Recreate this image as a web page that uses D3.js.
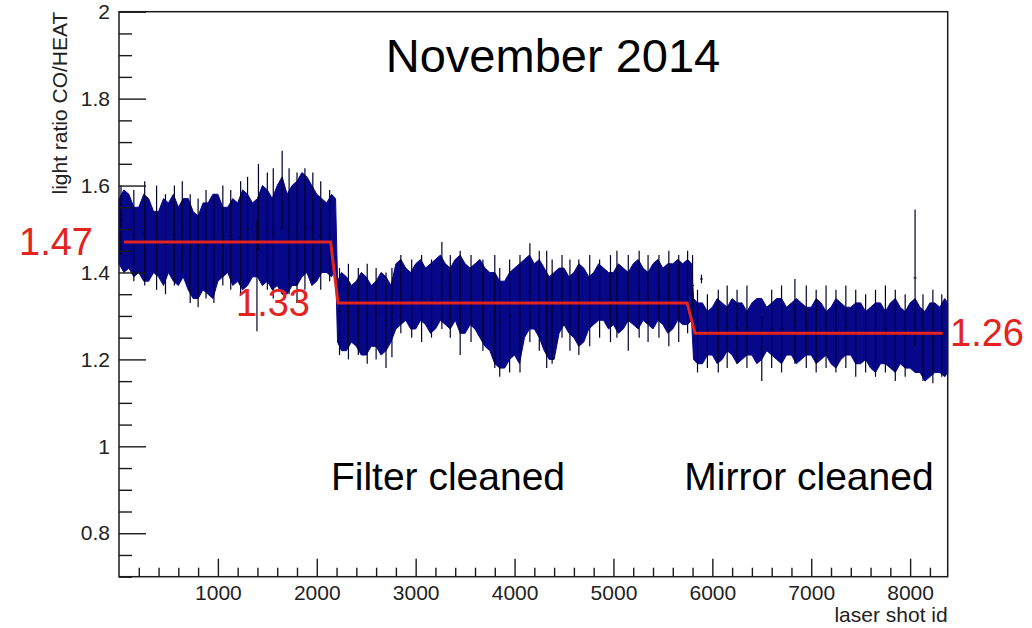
<!DOCTYPE html>
<html><head><meta charset="utf-8">
<script src="https://cdn.jsdelivr.net/npm/d3@7"></script>
<style>
body{margin:0;background:#fff}
svg{display:block}
text{font-family:"Liberation Sans",Arial,Helvetica,sans-serif}
</style>
</head><body>
<svg id="chart" width="1032" height="628"></svg>
<script>
// ---------- data ----------
// envelope of the dense band of points (upper / lower edge), per group of laser shots
const shotIds = [
  0,50,100,150,200,250,300,350,400,450,500,550,600,650,700,750,800,850,900,950,1000,1050,1100,1150,1200,1250,1300,1350,1400,1450,1500,1550,1600,1650,1700,1750,1800,1850,1900,1950,2000,2050,2100,2150,2190,
  2210,2250,2300,2350,2400,2450,2500,2550,2600,2650,2700,2750,2800,2850,2900,2950,3000,3050,3100,3150,3200,3250,3300,3350,3400,3450,3500,3550,3600,3650,3700,3750,
  3800,3850,3900,3950,4000,4050,4100,4150,4200,4250,4300,4350,4400,4450,4500,4550,4600,4650,4700,4750,
  4800,4850,4900,4950,5000,5050,5100,5150,5200,5250,5300,5350,5400,5450,5500,5550,5600,5650,5700,5750,5790,
  5810,5850,5900,5950,6000,6050,6100,6150,6200,6250,6300,6350,6400,6450,6500,6550,6600,6650,6700,6750,6800,
  6850,6900,6950,7000,7050,7100,7150,7200,7250,7300,7350,7400,7450,7500,7550,7600,7650,7700,7750,7800,
  7850,7900,7950,8000,8050,8100,8150,8200,8250,8300,8350,8380];
const bandTop = [
  1.57,1.59,1.58,1.55,1.55,1.58,1.57,1.54,1.54,1.57,1.56,1.58,1.55,1.57,1.57,1.54,1.53,1.56,1.56,1.58,1.58,1.55,1.55,1.57,1.56,1.59,1.58,1.56,1.57,1.60,1.59,1.57,1.60,1.62,1.58,1.60,1.61,1.63,1.62,1.60,1.58,1.57,1.56,1.58,1.57,
  1.38,1.40,1.39,1.37,1.38,1.40,1.39,1.37,1.38,1.40,1.39,1.37,1.42,1.43,1.41,1.40,1.42,1.43,1.41,1.42,1.43,1.44,1.42,1.41,1.43,1.44,1.42,1.41,1.42,1.43,1.41,1.40,
  1.40,1.38,1.38,1.40,1.41,1.42,1.43,1.44,1.42,1.43,1.41,1.39,1.40,1.41,1.41,1.39,1.40,1.42,1.41,1.39,
  1.40,1.42,1.41,1.40,1.40,1.42,1.41,1.40,1.42,1.43,1.41,1.40,1.42,1.43,1.41,1.42,1.42,1.43,1.42,1.43,1.42,
  1.34,1.33,1.33,1.31,1.32,1.34,1.33,1.32,1.34,1.33,1.33,1.31,1.33,1.34,1.34,1.32,1.33,1.34,1.34,1.32,1.33,
  1.34,1.33,1.32,1.32,1.34,1.33,1.31,1.32,1.34,1.33,1.32,1.32,1.33,1.33,1.31,1.32,1.33,1.33,1.31,1.33,
  1.34,1.32,1.31,1.33,1.34,1.32,1.31,1.33,1.33,1.32,1.34,1.33];
const bandBottom = [
  1.42,1.40,1.41,1.39,1.40,1.38,1.38,1.40,1.39,1.37,1.40,1.38,1.37,1.39,1.36,1.34,1.34,1.36,1.35,1.34,1.38,1.39,1.40,1.37,1.38,1.36,1.37,1.39,1.39,1.37,1.38,1.36,1.37,1.35,1.35,1.37,1.37,1.39,1.40,1.37,1.38,1.40,1.40,1.39,1.41,
  1.24,1.22,1.22,1.24,1.23,1.21,1.21,1.23,1.23,1.21,1.22,1.24,1.27,1.28,1.29,1.27,1.27,1.29,1.28,1.26,1.27,1.29,1.28,1.27,1.29,1.26,1.26,1.28,1.27,1.25,1.23,1.22,
  1.19,1.18,1.18,1.20,1.21,1.19,1.25,1.27,1.27,1.25,1.22,1.20,1.20,1.26,1.28,1.26,1.25,1.23,1.24,1.27,
  1.28,1.29,1.29,1.27,1.28,1.26,1.27,1.29,1.28,1.27,1.29,1.28,1.27,1.29,1.28,1.26,1.27,1.29,1.28,1.28,1.29,
  1.20,1.19,1.19,1.21,1.21,1.19,1.20,1.22,1.21,1.19,1.20,1.21,1.21,1.19,1.20,1.22,1.21,1.20,1.19,1.21,1.21,
  1.19,1.20,1.21,1.21,1.19,1.20,1.21,1.19,1.18,1.20,1.21,1.21,1.19,1.19,1.20,1.18,1.17,1.19,1.19,1.18,
  1.17,1.19,1.18,1.18,1.17,1.17,1.15,1.16,1.17,1.17,1.16,1.17];

// individual points with long error bars sticking out of the band
const spikeShots = [20,150,260,380,470,560,640,720,800,880,960,1050,1130,1230,1300,1395,1410,1500,1560,1650,1720,1800,1880,1960,2040,2130,
  2230,2320,2420,2510,2600,2700,2760,2850,2960,3060,3160,3265,3350,3450,3560,3680,3800,3850,3950,4055,4155,4250,4325,4380,4480,4560,4650,4760,4860,4970,5035,5150,5260,5350,5460,5560,5660,5750,5800,
  5850,5890,5950,6060,6150,6250,6350,6500,6600,6700,6835,6950,7050,7150,7250,7350,7450,7550,7650,7750,7850,7950,8050,8130,8230,8320];
const spikeHigh = [1.60,1.59,1.61,1.60,1.58,1.60,1.61,1.58,1.57,1.59,1.58,1.60,1.59,1.61,1.62,1.52,1.65,1.63,1.64,1.68,1.64,1.63,1.64,1.63,1.61,1.59,
  1.41,1.42,1.41,1.42,1.41,1.40,1.41,1.44,1.43,1.44,1.43,1.47,1.44,1.45,1.44,1.43,1.44,1.41,1.43,1.44,1.467,1.45,1.45,1.43,1.44,1.43,1.43,1.44,1.43,1.44,1.45,1.44,1.45,1.44,1.44,1.45,1.44,1.45,1.44,
  1.36,1.395,1.35,1.36,1.37,1.36,1.37,1.30,1.36,1.37,1.385,1.37,1.36,1.37,1.36,1.37,1.36,1.35,1.36,1.37,1.36,1.35,1.545,1.35,1.36,1.35];
const spikeLow = [1.44,1.38,1.37,1.36,1.35,1.37,1.40,1.33,1.32,1.34,1.33,1.37,1.36,1.35,1.38,1.265,1.45,1.36,1.34,1.50,1.35,1.33,1.36,1.38,1.36,1.38,
  1.21,1.20,1.21,1.19,1.20,1.18,1.205,1.26,1.25,1.24,1.25,1.27,1.25,1.21,1.24,1.22,1.18,1.16,1.17,1.17,1.24,1.22,1.18,1.19,1.25,1.22,1.21,1.23,1.25,1.24,1.25,1.22,1.25,1.24,1.25,1.23,1.24,1.26,1.30,
  1.17,1.375,1.18,1.17,1.18,1.19,1.18,1.15,1.18,1.17,1.19,1.18,1.17,1.18,1.17,1.18,1.16,1.17,1.16,1.17,1.15,1.16,1.23,1.15,1.145,1.16];

// fitted step function
const fitShots  = [50, 2140, 2215, 5745, 5825, 8330];
const fitValues = [1.47, 1.47, 1.33, 1.33, 1.26, 1.26];
const fitLabels = ["1.47", "1.33", "1.26"];

const xMajorTicks = [1000,2000,3000,4000,5000,6000,7000,8000];
const xMinorTicks = [200,400,600,800,1200,1400,1600,1800,2200,2400,2600,2800,3200,3400,3600,3800,4200,4400,4600,4800,5200,5400,5600,5800,6200,6400,6600,6800,7200,7400,7600,7800,8200];
const yMajorTicks = [0.8,1.0,1.2,1.4,1.6,1.8,2.0];
const yMinorTicks = [0.7,0.75,0.85,0.9,0.95,1.05,1.1,1.15,1.25,1.3,1.35,1.45,1.5,1.55,1.65,1.7,1.75,1.85,1.9,1.95];

const titleText = "November 2014";
const xTitle = "laser shot id";
const yTitle = "light ratio CO/HEAT";
const eventLabels = ["Filter cleaned", "Mirror cleaned"];

// ---------- drawing ----------
const svg = d3.select("#chart");
const L = 119, R = 947.7, T = 11.7, B = 576.7;
const x = d3.scaleLinear().domain([0, 8380]).range([L, R]);
const y = d3.scaleLinear().domain([0.7, 2.0]).range([B, T]);

const band = shotIds.map((s, i) => ({s, top: bandTop[i], bot: bandBottom[i]}));
const navy = "#07078a";

svg.append("path")
  .datum(band)
  .attr("fill", navy)
  .attr("stroke", navy)
  .attr("stroke-width", 1)
  .attr("stroke-linejoin", "miter")
  .attr("d", d3.area().x(d => x(d.s)).y0(d => y(d.bot)).y1(d => y(d.top)));

const spikes = spikeShots.map((s, i) => ({s, hi: spikeHigh[i], lo: spikeLow[i]}));
const sg = svg.append("g");
sg.selectAll("line.sp").data(spikes).join("line")
  .attr("class", "sp")
  .attr("x1", d => x(d.s)).attr("x2", d => x(d.s))
  .attr("y1", d => y(d.hi)).attr("y2", d => y(d.lo))
  .attr("stroke", "#00002e").attr("stroke-width", 1.2);
sg.selectAll("line.cap").data(spikes).join("line")
  .attr("class", "cap")
  .attr("x1", d => x(d.s) - 1.5).attr("x2", d => x(d.s) + 1.5)
  .attr("y1", d => y((d.hi + d.lo) / 2)).attr("y2", d => y((d.hi + d.lo) / 2))
  .attr("stroke", "#00002e").attr("stroke-width", 1);

// fit line
const fit = fitShots.map((s, i) => ({s, v: fitValues[i]}));
svg.append("path").datum(fit)
  .attr("fill", "none").attr("stroke", "#e2231e").attr("stroke-width", 3)
  .attr("d", d3.line().x(d => x(d.s)).y(d => y(d.v)));

// axes
const axisColor = "#1a1a1a";
const gx = svg.append("g").attr("transform", `translate(0,${B})`);
gx.call(d3.axisBottom(x).tickValues(xMajorTicks).tickSizeInner(-18).tickSizeOuter(0).tickFormat(d3.format("d")));
const gxm = svg.append("g").attr("transform", `translate(0,${B})`);
gxm.call(d3.axisBottom(x).tickValues(xMinorTicks).tickSizeInner(-9).tickSizeOuter(0).tickFormat(""));
const gy = svg.append("g").attr("transform", `translate(${L},0)`);
gy.call(d3.axisLeft(y).tickValues(yMajorTicks).tickSizeInner(-27).tickSizeOuter(0).tickPadding(9).tickFormat(d => d3.format("~g")(d)));
const gym = svg.append("g").attr("transform", `translate(${L},0)`);
gym.call(d3.axisLeft(y).tickValues(yMinorTicks).tickSizeInner(-13).tickSizeOuter(0).tickFormat(""));

[gx, gxm, gy, gym].forEach(g => {
  g.select(".domain").remove();
  g.selectAll(".tick line").attr("stroke", axisColor).attr("stroke-width", 1.4);
  g.selectAll(".tick text").attr("fill", "#222").attr("font-size", 21)
    .attr("font-family", "'Liberation Sans', Arial, sans-serif");
});
gx.selectAll(".tick text").attr("y", 23).attr("dy", "0");

// frame
svg.append("rect").attr("x", L).attr("y", T).attr("width", R - L).attr("height", B - T)
  .attr("fill", "none").attr("stroke", axisColor).attr("stroke-width", 1.5);

// axis titles
svg.append("text").attr("x", R).attr("y", 622).attr("text-anchor", "end")
  .attr("font-size", 21).attr("fill", "#222").text(xTitle);
svg.append("text").attr("transform", `translate(67,${T}) rotate(-90)`).attr("text-anchor", "end")
  .attr("font-size", 21).attr("fill", "#222").text(yTitle);

// title and annotations
svg.append("text").attr("x", 553).attr("y", 72).attr("text-anchor", "middle")
  .attr("font-size", 47).attr("fill", "#000").text(titleText);
svg.append("text").attr("x", 448).attr("y", 490).attr("text-anchor", "middle")
  .attr("font-size", 39).attr("fill", "#000").text(eventLabels[0]);
svg.append("text").attr("x", 809).attr("y", 490).attr("text-anchor", "middle")
  .attr("font-size", 39).attr("fill", "#000").text(eventLabels[1]);

// fit value labels
const red = "#e2231e";
svg.append("text").attr("x", 93).attr("y", y(fitValues[0]) + 13).attr("text-anchor", "end")
  .attr("font-size", 38).attr("fill", red).text(fitLabels[0]);
svg.append("text").attr("x", 310).attr("y", y(fitValues[2]) + 13).attr("text-anchor", "end")
  .attr("font-size", 38).attr("fill", red).text(fitLabels[1]);
svg.append("text").attr("x", 950).attr("y", y(fitValues[4]) + 13).attr("text-anchor", "start")
  .attr("font-size", 38).attr("fill", red).text(fitLabels[2]);
</script>
</body></html>
